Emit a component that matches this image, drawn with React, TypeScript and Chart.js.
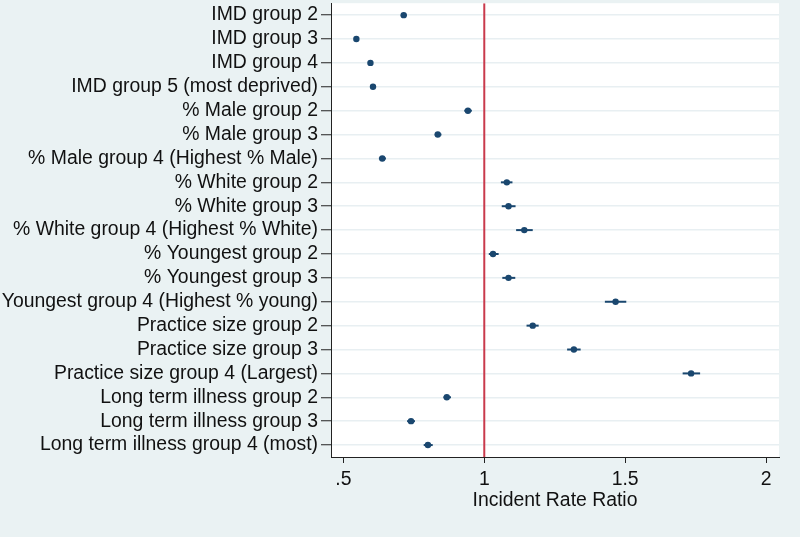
import React, { useEffect, useRef } from "react";
import Chart from "chart.js/auto";

const categories = [
  "IMD group 2",
  "IMD group 3",
  "IMD group 4",
  "IMD group 5 (most deprived)",
  "% Male group 2",
  "% Male group 3",
  "% Male group 4 (Highest % Male)",
  "% White group 2",
  "% White group 3",
  "% White group 4 (Highest % White)",
  "% Youngest group 2",
  "% Youngest group 3",
  "% Youngest group 4 (Highest % young)",
  "Practice size group 2",
  "Practice size group 3",
  "Practice size group 4 (Largest)",
  "Long term illness group 2",
  "Long term illness group 3",
  "Long term illness group 4 (most)",
];

const irr = [0.714, 0.546, 0.596, 0.605, 0.942, 0.835, 0.638, 1.08, 1.086, 1.142, 1.031, 1.086, 1.466, 1.172, 1.318, 1.734, 0.867, 0.74, 0.8];
const ciLow = [0.704, 0.538, 0.587, 0.595, 0.929, 0.824, 0.626, 1.059, 1.062, 1.113, 1.016, 1.064, 1.428, 1.15, 1.294, 1.704, 0.855, 0.726, 0.785];
const ciHigh = [0.724, 0.555, 0.605, 0.616, 0.956, 0.848, 0.651, 1.1, 1.111, 1.172, 1.051, 1.11, 1.504, 1.193, 1.342, 1.766, 0.882, 0.754, 0.817];

const xTicks = [0.5, 1, 1.5, 2];
const xTickLabels = [".5", "1", "1.5", "2"];
const referenceValue = 1;

const NAVY = "#1a476f";
const FONT = "'Liberation Sans', Arial, Helvetica, sans-serif";

const plotBg = {
  id: "plotBg",
  beforeDraw(chart: any) {
    const { ctx, chartArea: a } = chart;
    ctx.save();
    ctx.fillStyle = "#ffffff";
    ctx.fillRect(a.left, a.top, a.right - a.left, a.bottom - a.top);
    ctx.restore();
  },
};

const errorBars = {
  id: "errorBars",
  beforeDatasetsDraw(chart: any) {
    const { ctx, scales } = chart;
    const xs = scales.x;
    const ys = scales.y;
    ctx.save();
    ctx.strokeStyle = NAVY;
    ctx.lineWidth = 2;
    for (let i = 0; i < irr.length; i++) {
      const y = ys.getPixelForValue(i + 1);
      ctx.beginPath();
      ctx.moveTo(xs.getPixelForValue(ciLow[i]), y);
      ctx.lineTo(xs.getPixelForValue(ciHigh[i]), y);
      ctx.stroke();
    }
    ctx.restore();
  },
};

export default function App() {
  const ref = useRef<HTMLCanvasElement | null>(null);

  useEffect(() => {
    document.body.style.margin = "0";
    if (!ref.current) return;
    const chart = new Chart(ref.current, {
      type: "scatter",
      data: {
        datasets: [
          {
            label: "IRR",
            data: irr.map((v, i) => ({ x: v, y: i + 1 })),
            backgroundColor: NAVY,
            borderColor: NAVY,
            pointRadius: 3.2,
            pointHoverRadius: 3.2,
            borderWidth: 0,
          },
          {
            type: "line",
            label: "ref",
            data: [
              { x: referenceValue, y: 0.5 },
              { x: referenceValue, y: 19.5 },
            ],
            borderColor: "#c93a4c",
            borderWidth: 2,
            pointRadius: 0,
            fill: false,
          } as any,
        ],
      },
      options: {
        animation: false,
        responsive: true,
        maintainAspectRatio: false,
        layout: { padding: { top: 3, right: 21, bottom: 25, left: 0 } },
        plugins: {
          legend: { display: false },
          tooltip: { enabled: false },
        },
        scales: {
          x: {
            type: "linear",
            min: 0.456,
            max: 2.046,
            afterBuildTicks: (scale: any) => {
              scale.ticks = xTicks.map((v) => ({ value: v }));
            },
            afterFit: (scale: any) => {
              scale.height = 55;
              scale.paddingLeft = 0;
              scale.paddingRight = 0;
            },
            grid: {
              drawOnChartArea: false,
              drawTicks: true,
              tickLength: 6,
              tickColor: "#222222",
              tickWidth: 1,
            },
            border: { color: "#222222", width: 1 },
            ticks: {
              padding: 5,
              color: "#111111",
              font: { family: FONT, size: 19.4 },
              maxRotation: 0,
              autoSkip: false,
              callback: (v: any) => {
                const idx = xTicks.indexOf(Number(v));
                return idx >= 0 ? xTickLabels[idx] : "";
              },
            },
            title: {
              display: true,
              text: "Incident Rate Ratio",
              color: "#111111",
              font: { family: FONT, size: 19.4 },
              padding: 0,
            },
          },
          y: {
            type: "linear",
            min: 0.5,
            max: 19.5,
            reverse: true,
            afterBuildTicks: (scale: any) => {
              scale.ticks = categories.map((_, i) => ({ value: i + 1 }));
            },
            afterFit: (scale: any) => {
              scale.width = 331;
              scale.paddingTop = 0;
              scale.paddingBottom = 0;
            },
            grid: {
              color: "#e8eff2",
              lineWidth: 1.5,
              drawTicks: true,
              tickLength: 10,
              tickColor: "#222222",
              tickWidth: 1,
            },
            border: { color: "#222222", width: 1 },
            ticks: {
              padding: 3,
              color: "#111111",
              font: { family: FONT, size: 19.4 },
              autoSkip: false,
              callback: (v: any) => categories[Number(v) - 1] ?? "",
            },
          },
        },
      },
      plugins: [plotBg, errorBars],
    });
    return () => chart.destroy();
  }, []);

  return (
    <div style={{ width: 800, height: 537, position: "relative", background: "#eaf2f3" }}>
      <canvas ref={ref} />
    </div>
  );
}
